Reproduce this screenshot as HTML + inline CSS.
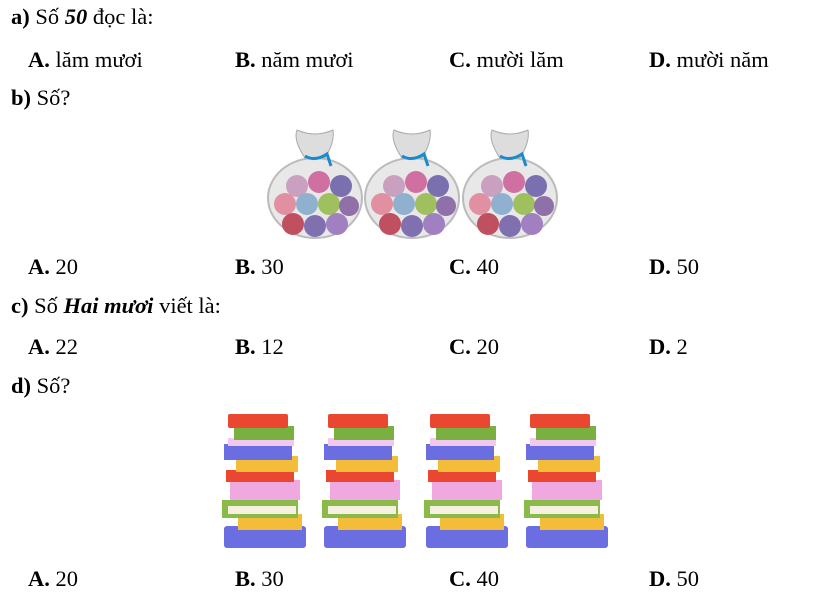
<!DOCTYPE html>
<html><head><meta charset="utf-8"><style>
body{margin:0;width:815px;height:602px;background:#fff;overflow:hidden;font-family:"Liberation Serif",serif;font-size:22.5px;color:#000}
.t{position:absolute;white-space:nowrap;line-height:1}
</style></head><body>
<svg width="815" height="602" style="position:absolute;left:0;top:0">
<defs>
<g id="bag">
<ellipse cx="0" cy="70" rx="47" ry="40" fill="#e8e8e8" stroke="#bbb" stroke-width="2"/>
<path d="M-10 30 Q-22 12 -18 2 Q0 10 18 2 Q20 14 10 30 Z" fill="#ddd" stroke="#aaa"/>
<path d="M-10 28 Q0 34 12 26 L16 38" stroke="#1a8ad0" stroke-width="3" fill="none"/>
<circle cx="-18" cy="58" r="11" fill="#c9a0c0"/><circle cx="4" cy="54" r="11" fill="#d070a0"/><circle cx="26" cy="58" r="11" fill="#7a70b0"/>
<circle cx="-30" cy="76" r="11" fill="#e090a0"/><circle cx="-8" cy="76" r="11" fill="#90b0d0"/><circle cx="14" cy="76" r="11" fill="#a0c060"/><circle cx="34" cy="78" r="10" fill="#9070a8"/>
<circle cx="-22" cy="96" r="11" fill="#c05060"/><circle cx="0" cy="98" r="11" fill="#8070b0"/><circle cx="22" cy="96" r="11" fill="#a080c0"/>
</g>
<g id="books">
<rect x="8" y="112" width="82" height="22" fill="#6a6ee0" rx="3"/><rect x="22" y="100" width="64" height="16" fill="#f3bd3a"/>
<rect x="6" y="86" width="76" height="18" fill="#8aba4a"/><rect x="12" y="92" width="68" height="8" fill="#f5f0e0"/>
<rect x="14" y="66" width="70" height="20" fill="#f0a8e0"/><rect x="10" y="56" width="68" height="12" fill="#e9472f"/>
<rect x="20" y="42" width="62" height="16" fill="#f3bd3a"/><rect x="8" y="30" width="68" height="16" fill="#6a6ee0"/>
<rect x="12" y="24" width="66" height="8" fill="#f3c8f0"/>
<rect x="18" y="12" width="60" height="14" fill="#7ab040"/><rect x="12" y="0" width="60" height="14" fill="#e9472f" rx="2"/>
</g>
</defs>
<use href="#bag" x="315" y="128"/><use href="#bag" x="412" y="128"/><use href="#bag" x="510" y="128"/>
<use href="#books" x="216" y="414"/><use href="#books" x="316" y="414"/><use href="#books" x="418" y="414"/><use href="#books" x="518" y="414"/>
</svg>
<div class="t" style="left:11px;top:6px"><b>a)</b> Số <b><i>50</i></b> đọc là:</div>
<div class="t" style="left:28px;top:49px"><b>A.</b> lăm mươi</div>
<div class="t" style="left:235px;top:49px"><b>B.</b> năm mươi</div>
<div class="t" style="left:449px;top:49px"><b>C.</b> mười lăm</div>
<div class="t" style="left:649px;top:49px"><b>D.</b> mười năm</div>
<div class="t" style="left:11px;top:87px"><b>b)</b> Số?</div>
<div class="t" style="left:28px;top:256px"><b>A.</b> 20</div>
<div class="t" style="left:235px;top:256px"><b>B.</b> 30</div>
<div class="t" style="left:449px;top:256px"><b>C.</b> 40</div>
<div class="t" style="left:649px;top:256px"><b>D.</b> 50</div>
<div class="t" style="left:11px;top:295px"><b>c)</b> Số <b><i>Hai mươi</i></b> viết là:</div>
<div class="t" style="left:28px;top:336px"><b>A.</b> 22</div>
<div class="t" style="left:235px;top:336px"><b>B.</b> 12</div>
<div class="t" style="left:449px;top:336px"><b>C.</b> 20</div>
<div class="t" style="left:649px;top:336px"><b>D.</b> 2</div>
<div class="t" style="left:11px;top:375px"><b>d)</b> Số?</div>
<div class="t" style="left:28px;top:568px"><b>A.</b> 20</div>
<div class="t" style="left:235px;top:568px"><b>B.</b> 30</div>
<div class="t" style="left:449px;top:568px"><b>C.</b> 40</div>
<div class="t" style="left:649px;top:568px"><b>D.</b> 50</div>
</body></html>
